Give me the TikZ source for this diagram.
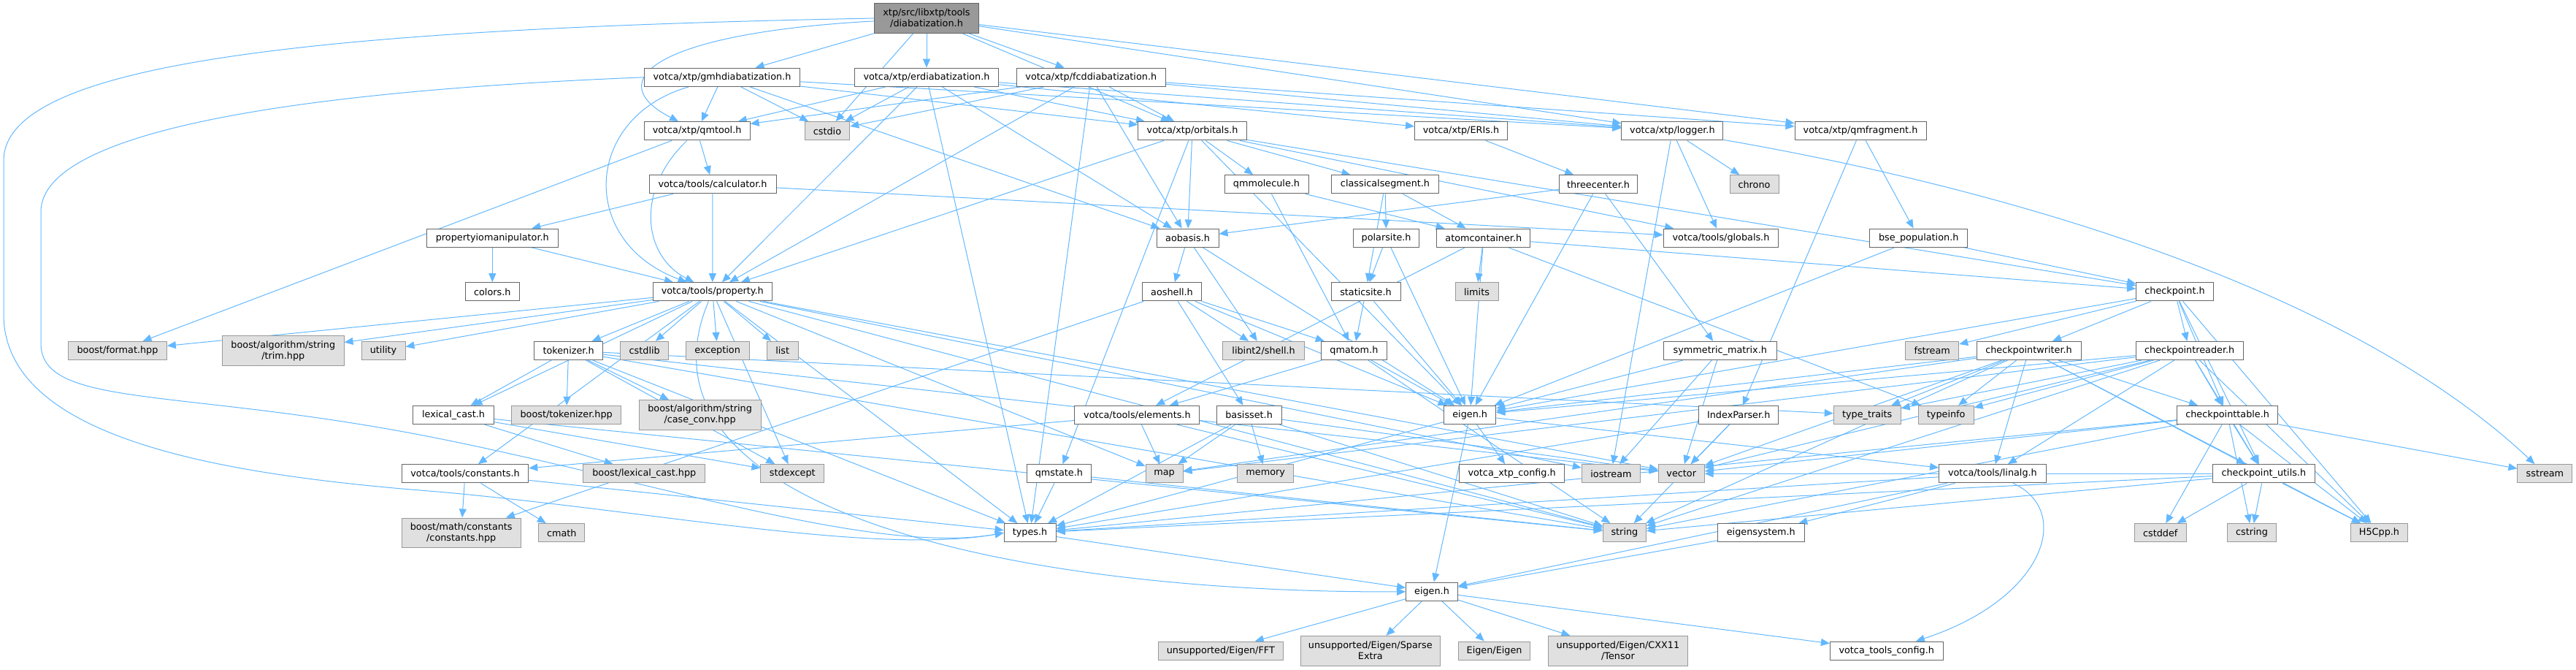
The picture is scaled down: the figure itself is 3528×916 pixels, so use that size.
\documentclass[tikz,border=0pt]{standalone}
\usepackage{fontspec}
\setmainfont{DejaVu Sans}
\usetikzlibrary{arrows.meta,backgrounds}
\definecolor{edgeblue}{HTML}{63B8FF}
\definecolor{fileline}{HTML}{666666}
\definecolor{sysfill}{HTML}{E0E0E0}
\definecolor{sysline}{HTML}{999999}
\definecolor{rootfill}{HTML}{999999}

\begin{document}
\begin{tikzpicture}[x=1pt,y=-1pt,
  file/.style={draw=fileline,fill=white,line width=1pt,inner sep=0pt,
    minimum height=25.3pt,align=center,font=\fontsize{12.8}{15}\selectfont},
  sys/.style={file,draw=sysline,fill=sysfill},
  root/.style={file,fill=rootfill,minimum height=40.6pt},
  two/.style={minimum height=40.6pt},
  wd/.style={minimum width=#1pt},
  inc/.style={draw=edgeblue,line width=1pt,-{Triangle[length=12pt,width=10pt]}}]
  \useasboundingbox (0,0) rectangle (3528,916);

  % Top: the file itself and the three diabatization headers.
  \node[root,wd=143] (diab) at (1269,25) {xtp/src/libxtp/tools\\/diabatization.h};
  \node[file,wd=213.5] (gmh) at (989,105.8) {votca/xtp/gmhdiabatization.h};
  \node[file,wd=197.5] (erd) at (1269,105.8) {votca/xtp/erdiabatization.h};
  \node[file,wd=204] (fcd) at (1494.3,105.8) {votca/xtp/fcddiabatization.h};

  % xtp headers.
  \node[file,wd=145] (qmtool) at (954.6,179.3) {votca/xtp/qmtool.h};
  \node[sys,wd=61.6] (cstdio) at (1133,179.3) {cstdio};
  \node[file,wd=148.5] (orbitals) at (1633,179.3) {votca/xtp/orbitals.h};
  \node[file,wd=127] (eris) at (2001,179.3) {votca/xtp/ERIs.h};
  \node[file,wd=139] (logger) at (2290.4,179.3) {votca/xtp/logger.h};
  \node[file,wd=180] (qmfrag) at (2548,179.3) {votca/xtp/qmfragment.h};

  \node[file,wd=174] (calc) at (976,252.3) {votca/tools/calculator.h};
  \node[file,wd=115] (qmmol) at (1734.5,252.3) {qmmolecule.h};
  \node[file,wd=146.6] (clseg) at (1897,252.3) {classicalsegment.h};
  \node[file,wd=107.5] (threec) at (2189,252.3) {threecenter.h};
  \node[sys,wd=67] (chrono) at (2402.5,252.3) {chrono};

  \node[file,wd=179.5] (propio) at (674.3,325.7) {propertyiomanipulator.h};
  \node[file,wd=85] (aobasis) at (1626.5,325.7) {aobasis.h};
  \node[file,wd=90.7] (polar) at (1898.6,325.7) {polarsite.h};
  \node[file,wd=128] (atomcont) at (2031.8,325.7) {atomcontainer.h};
  \node[file,wd=157.6] (globals) at (2357,325.7) {votca/tools/globals.h};
  \node[file,wd=134] (bsepop) at (2627.7,325.7) {bse\_population.h};

  \node[file,wd=74] (colors) at (674.3,399.3) {colors.h};
  \node[file,wd=162.6] (property) at (975.8,399.3) {votca/tools/property.h};
  \node[file,wd=81.5] (aoshell) at (1605,399.3) {aoshell.h};
  \node[file,wd=95] (static) at (1870.5,399.3) {staticsite.h};
  \node[sys,wd=59] (limits) at (2022.5,399.3) {limits};
  \node[file,wd=105.7] (checkpt) at (2978.5,399.3) {checkpoint.h};

  % Middle rows.
  \node[sys,wd=134.7] (bformat) at (161,480) {boost/format.hpp};
  \node[sys,two,wd=166.5] (trim) at (387.8,480) {boost/algorithm/string\\/trim.hpp};
  \node[sys,wd=60] (utility) at (525,480) {utility};
  \node[file,wd=93.4] (tokenizer) at (778.6,480) {tokenizer.h};
  \node[sys,wd=65.8] (cstdlib) at (882.7,480) {cstdlib};
  \node[sys,wd=87] (exception) at (982.6,480) {exception};
  \node[sys,wd=43] (list) at (1071.7,480) {list};
  \node[sys,wd=111.3] (libint) at (1730.6,480) {libint2/shell.h};
  \node[file,wd=89.6] (qmatom) at (1854.4,480) {qmatom.h};
  \node[file,wd=155] (symm) at (2355.8,480) {symmetric\_matrix.h};
  \node[sys,wd=73] (fstream) at (2646.2,480) {fstream};
  \node[file,wd=143] (cpwriter) at (2778.5,480) {checkpointwriter.h};
  \node[file,wd=147] (cpreader) at (2998.7,480) {checkpointreader.h};

  \node[file,wd=111] (lexcast) at (621,568) {lexical\_cast.h};
  \node[sys,wd=149.6] (btok) at (775.7,568) {boost/tokenizer.hpp};
  \node[sys,two,wd=167] (caseconv) at (958.6,568) {boost/algorithm/string\\/case\_conv.hpp};
  \node[file,wd=171] (elements) at (1557.4,568) {votca/tools/elements.h};
  \node[file,wd=88.8] (basisset) at (1710.6,568) {basisset.h};
  \node[file,wd=71.2] (eigenxtp) at (2013.2,568) {eigen.h};
  \node[file,wd=109.4] (indexp) at (2381.2,568) {IndexParser.h};
  \node[sys,wd=91.8] (typetraits) at (2557.2,568) {type\_traits};
  \node[sys,wd=75.8] (typeinfo) at (2665.2,568) {typeinfo};
  \node[file,wd=138.6] (cptable) at (3050.6,568) {checkpointtable.h};

  \node[file,wd=173.6] (constants) at (637,648.3) {votca/tools/constants.h};
  \node[sys,wd=166.8] (blexcast) at (882.3,648.3) {boost/lexical\_cast.hpp};
  \node[sys,wd=86.9] (stdexcept) at (1085.3,648.3) {stdexcept};
  \node[file,wd=88] (qmstate) at (1450.4,648.3) {qmstate.h};
  \node[sys,wd=51] (map) at (1594.5,648.3) {map};
  \node[sys,wd=77] (memory) at (1733.2,648.3) {memory};
  \node[file,wd=143.9] (xtpconfig) at (2070.6,648.3) {votca\_xtp\_config.h};
  \node[sys,wd=80.4] (iostream) at (2206.5,648.3) {iostream};
  \node[sys,wd=63] (vector) at (2302.7,648.3) {vector};
  \node[file,wd=146.6] (linalg) at (2728.9,648.3) {votca/tools/linalg.h};
  \node[file,wd=140] (cputils) at (3100.3,648.3) {checkpoint\_utils.h};
  \node[sys,wd=74.9] (sstream) at (3485.4,648.3) {sstream};

  % Bottom rows.
  \node[sys,two,wd=163] (mathconst) at (631.7,729.3) {boost/math/constants\\/constants.hpp};
  \node[sys,wd=63] (cmath) at (769.3,729.3) {cmath};
  \node[file,wd=71] (types) at (1410.6,729.3) {types.h};
  \node[sys,wd=59] (string) at (2224.9,729.3) {string};
  \node[file,wd=118.6] (eigensys) at (2411.8,729.3) {eigensystem.h};
  \node[sys,wd=70.9] (cstddef) at (2958.7,729.3) {cstddef};
  \node[sys,wd=66.9] (cstring) at (3084,729.3) {cstring};
  \node[sys,wd=77.7] (h5cpp) at (3258.5,729.3) {H5Cpp.h};

  \node[file,wd=70.8] (eigentools) at (1961,809.7) {eigen.h};

  \node[sys,wd=171] (fft) at (1671.8,890.7) {unsupported/Eigen/FFT};
  \node[sys,two,wd=191] (sparse) at (1876.8,890.7) {unsupported/Eigen/Sparse\\Extra};
  \node[sys,wd=98.7] (eigeneigen) at (2046.6,890.7) {Eigen/Eigen};
  \node[sys,two,wd=191] (tensor) at (2215.9,890.7) {unsupported/Eigen/CXX11\\/Tensor};
  \node[file,wd=154.6] (toolsconfig) at (2583.7,890.7) {votca\_tools\_config.h};

  \begin{pgfonlayer}{background}
  % Includes of the file itself.
  \foreach \t in {gmh,erd,fcd,cstdio,orbitals,logger,qmfrag}
    \draw[inc] (diab) -- (\t);
  \draw[inc] (diab) .. controls (900,45) and (820,110) .. (qmtool);
  \draw[inc] (diab.west) .. controls (400,40) and (5,90) .. (5,220) -- (5,430)
    .. controls (5,600) and (300,650) .. (600,673)
    .. controls (900,700) and (1200,760) .. (types.west);

  % Diabatization headers.
  \foreach \t in {qmtool,cstdio,aobasis,orbitals,logger}
    \draw[inc] (gmh) -- (\t);
  \draw[inc] (gmh) .. controls (800,160) and (790,330) .. (property);
  \draw[inc] (gmh.west) .. controls (400,125) and (56,180) .. (56,290) -- (56,470)
    .. controls (56,560) and (250,530) .. (600,600)
    .. controls (900,660) and (1200,760) .. (types.west);
  \foreach \t in {qmtool,cstdio,property,aobasis,orbitals,logger,eris,types}
    \draw[inc] (erd) -- (\t);
  \foreach \t in {qmtool,cstdio,property,aobasis,orbitals,logger,qmfrag,types}
    \draw[inc] (fcd) -- (\t);

  % Tool and calculator chain.
  \draw[inc] (qmtool) -- (bformat);
  \draw[inc] (qmtool) .. controls (870,260) and (880,350) .. (property);
  \draw[inc] (qmtool) -- (calc);
  \foreach \t in {propio,property,globals}
    \draw[inc] (calc) -- (\t);
  \foreach \t in {colors,property}
    \draw[inc] (propio) -- (\t);

  % Orbitals and basis.
  \foreach \t in {property,aobasis,qmmol,clseg,qmstate,checkpt,eigenxtp,globals}
    \draw[inc] (orbitals) -- (\t);
  \foreach \t in {aoshell,libint,eigenxtp}
    \draw[inc] (aobasis) -- (\t);
  \foreach \t in {libint,basisset,qmatom,eigenxtp,mathconst}
    \draw[inc] (aoshell) -- (\t);
  \draw[inc] (eris) -- (threec);
  \foreach \t in {aobasis,eigenxtp,symm}
    \draw[inc] (threec) -- (\t);

  % Molecules and sites.
  \foreach \t in {atomcont,qmatom}
    \draw[inc] (qmmol) -- (\t);
  \foreach \t in {polar,atomcont,static}
    \draw[inc] (clseg) -- (\t);
  \foreach \t in {static,eigenxtp}
    \draw[inc] (polar) -- (\t);
  \foreach \t in {qmatom,eigenxtp}
    \draw[inc] (static) -- (\t);
  \foreach \t in {limits,eigenxtp,checkpt,typeinfo,elements}
    \draw[inc] (atomcont) -- (\t);
  \foreach \t in {elements,eigenxtp,string}
    \draw[inc] (qmatom) -- (\t);
  \foreach \t in {eigenxtp,iostream,vector}
    \draw[inc] (symm) -- (\t);

  % Logger and fragments.
  \foreach \t in {chrono,globals,iostream}
    \draw[inc] (logger) -- (\t);
  \draw[inc] (logger) .. controls (2700,250) and (3200,380) .. (sstream);
  \foreach \t in {bsepop,indexp}
    \draw[inc] (qmfrag) -- (\t);
  \foreach \t in {checkpt,eigenxtp}
    \draw[inc] (bsepop) -- (\t);
  \foreach \t in {vector,string,types}
    \draw[inc] (indexp) -- (\t);

  % Checkpoint family.
  \foreach \t in {fstream,cpwriter,cpreader,cptable,cputils,h5cpp,eigenxtp}
    \draw[inc] (checkpt) -- (\t);
  \foreach \t in {typetraits,typeinfo,linalg,cptable,cputils,h5cpp,eigenxtp,string,vector,map}
    \draw[inc] (cpwriter) -- (\t);
  \foreach \t in {typetraits,typeinfo,linalg,cptable,cputils,h5cpp,eigenxtp,string,vector,map}
    \draw[inc] (cpreader) -- (\t);
  \foreach \t in {cputils,cstddef,cstring,h5cpp,sstream,string,vector,types}
    \draw[inc] (cptable) -- (\t);
  \foreach \t in {cstddef,cstring,h5cpp,string,vector,types}
    \draw[inc] (cputils) -- (\t);

  % Property and tools headers.
  \foreach \t in {bformat,trim,utility,tokenizer,cstdlib,exception,list,stdexcept,
      map,string,vector,iostream,lexcast,types,constants}
    \draw[inc] (property) -- (\t);
  \draw[inc] (property) .. controls (850,700) and (1400,812) .. (eigentools);
  \foreach \t in {lexcast,btok,caseconv,stdexcept,string,vector,typetraits,types}
    \draw[inc] (tokenizer) -- (\t);
  \foreach \t in {blexcast,stdexcept,string}
    \draw[inc] (lexcast) -- (\t);
  \foreach \t in {map,string,constants}
    \draw[inc] (elements) -- (\t);
  \foreach \t in {mathconst,cmath,types}
    \draw[inc] (constants) -- (\t);
  \foreach \t in {map,memory,string,types,vector}
    \draw[inc] (basisset) -- (\t);
  \foreach \t in {types,string}
    \draw[inc] (qmstate) -- (\t);

  % Linear algebra and Eigen.
  \foreach \t in {eigentools,xtpconfig,linalg,types}
    \draw[inc] (eigenxtp) -- (\t);
  \foreach \t in {eigensys,eigentools,types}
    \draw[inc] (linalg) -- (\t);
  \draw[inc] (linalg) .. controls (2840,700) and (2800,820) .. (toolsconfig);
  \draw[inc] (eigensys) -- (eigentools);
  \draw[inc] (types) -- (eigentools);
  \foreach \t in {fft,sparse,eigeneigen,tensor,toolsconfig}
    \draw[inc] (eigentools) -- (\t);
  \end{pgfonlayer}
\end{tikzpicture}
\end{document}
